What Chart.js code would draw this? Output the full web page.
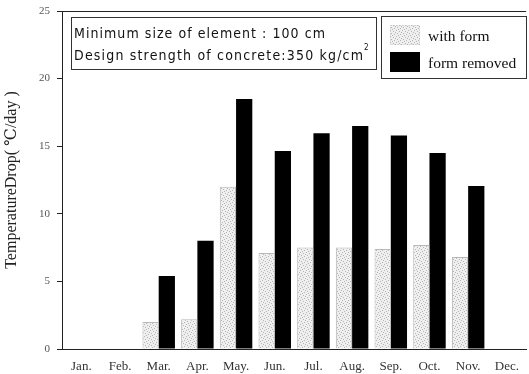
<!DOCTYPE html>
<html>
<head>
<meta charset="utf-8">
<script src="https://cdn.jsdelivr.net/npm/chart.js@4/dist/chart.umd.min.js"></script>
<style>
  html, body { margin: 0; padding: 0; background: #fff; }
  #wrap { width: 529px; height: 374px; }
</style>
</head>
<body>
<div id="wrap"><canvas id="c" width="529" height="374"></canvas></div>
<script>
// Monthly temperature drop (°C/day)
const months = ['Jan.', 'Feb.', 'Mar.', 'Apr.', 'May.', 'Jun.', 'Jul.', 'Aug.', 'Sep.', 'Oct.', 'Nov.', 'Dec.'];
const withForm = [0, 0, 2.0, 2.2, 12.0, 7.1, 7.5, 7.5, 7.4, 7.7, 6.8, 0];
const formRemoved = [0, 0, 5.4, 8.0, 18.5, 14.65, 15.95, 16.5, 15.8, 14.5, 12.05, 0];
const yTicks = [0, 5, 10, 15, 20, 25];
const noteLines = ['Minimum size of element : 100 cm', 'Design strength of concrete:350 kg/cm'];
const seriesNames = ['with form', 'form removed'];

// light stippled fill for the "with form" bars
function stipple() {
  const p = document.createElement('canvas');
  p.width = 6; p.height = 6;
  const g = p.getContext('2d');
  g.fillStyle = '#efefef';
  g.fillRect(0, 0, 6, 6);
  g.fillStyle = '#b5b5b5';
  [[0,0],[3,1],[1,3],[4,4],[5,2],[2,5]].forEach(([x, y]) => g.fillRect(x, y, 1, 1));
  return g.createPattern(p, 'repeat');
}
const ctx = document.getElementById('c').getContext('2d');
const grayFill = stipple();

const serif = '"Liberation Serif", "DejaVu Serif", serif';
const narrow = '"Liberation Sans Narrow", "DejaVu Sans Condensed", "Liberation Sans", sans-serif';

// draw a line of text spread out to a given width
function spreadText(c, text, x, y, width) {
  c.letterSpacing = '0px';
  const natural = c.measureText(text).width;
  const extra = Math.max(0, (width - natural) / (text.length - 1));
  c.letterSpacing = extra.toFixed(2) + 'px';
  c.fillText(text, x, y);
  c.letterSpacing = '0px';
  return x + width;
}

// frame line across the top, note box and legend box
const decorations = {
  id: 'decorations',
  afterDraw(chart) {
    const c = chart.ctx;
    const a = chart.chartArea;
    c.save();
    c.strokeStyle = '#222';
    c.lineWidth = 1;
    c.beginPath();
    c.moveTo(a.left, a.top + 0.5);
    c.lineTo(a.right, a.top + 0.5);
    c.stroke();

    // note box
    c.strokeStyle = '#333';
    c.strokeRect(71.5, 17.5, 305, 52);
    c.fillStyle = '#111';
    c.font = '14px ' + narrow;
    c.textBaseline = 'alphabetic';
    c.textAlign = 'left';
    spreadText(c, noteLines[0], 74, 38, 251);
    const end = spreadText(c, noteLines[1], 74, 60, 289);
    c.font = '8px ' + narrow;
    c.fillText('2', end + 1, 50);

    // legend box
    c.strokeStyle = '#333';
    c.strokeRect(381.5, 16.5, 145, 62);
    c.fillStyle = grayFill;
    c.fillRect(390, 25, 30, 20);
    c.strokeStyle = '#bbb';
    c.setLineDash([1, 2]);
    c.strokeRect(390.5, 25.5, 29, 19);
    c.setLineDash([]);
    c.fillStyle = '#000';
    c.fillRect(390, 52, 30, 20);
    c.fillStyle = '#111';
    c.font = '15.5px ' + serif;
    c.fillText(seriesNames[0], 428, 41);
    c.fillText(seriesNames[1], 428, 68);
    c.restore();
  }
};

new Chart(ctx, {
  type: 'bar',
  data: {
    labels: months,
    datasets: [
      { label: seriesNames[0], data: withForm, backgroundColor: grayFill, borderColor: '#b8b8b8', borderWidth: 1, borderSkipped: 'bottom' },
      { label: seriesNames[1], data: formRemoved, backgroundColor: '#000', borderColor: '#000', borderWidth: 0 }
    ]
  },
  options: {
    responsive: false,
    animation: false,
    events: [],
    layout: { padding: { top: 11, right: 2, left: 0, bottom: 0 } },
    plugins: { legend: { display: false }, tooltip: { enabled: false } },
    datasets: { bar: { categoryPercentage: 0.84, barPercentage: 1.0 } },
    scales: {
      x: {
        grid: { display: false, drawTicks: false },
        border: { display: true, color: '#222', width: 1 },
        ticks: { color: '#333', font: { family: serif, size: 13 }, padding: 10, maxRotation: 0, autoSkip: false },
        afterFit(s) { s.height = 25; }
      },
      y: {
        min: 0, max: 25,
        afterBuildTicks(s) { s.ticks = yTicks.map(v => ({ value: v })); },
        grid: { drawOnChartArea: false, drawTicks: true, tickLength: 5, color: '#222' },
        border: { display: true, color: '#222', width: 1 },
        ticks: { color: '#555', font: { family: serif, size: 11, lineHeight: 1 }, padding: 7 },
        title: { display: true, text: 'TemperatureDrop( ℃/day )', color: '#222', font: { family: serif, size: 16 }, padding: { top: 2, bottom: 6 } },
        afterFit(s) { s.width = 62; s.paddingTop = 0; s.paddingBottom = 0; }
      }
    }
  },
  plugins: [decorations]
});
</script>
</body>
</html>
